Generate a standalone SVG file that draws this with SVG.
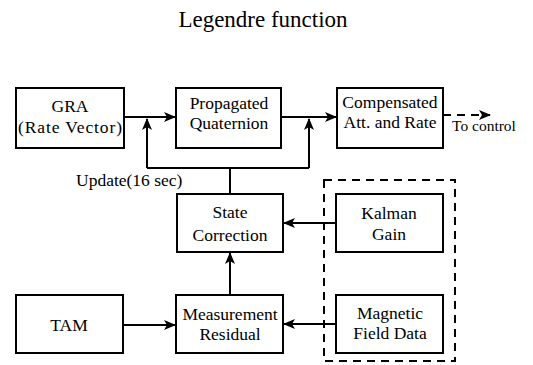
<svg xmlns="http://www.w3.org/2000/svg" width="533" height="365" viewBox="0 0 533 365">
  <style>
    .box { fill: #ffffff; stroke: #000000; stroke-width: 2; }
    text { font-family: 'Liberation Serif', 'Times New Roman', 'DejaVu Serif', serif; }
    .lbl { font-size: 17.5px; fill: #000000; text-anchor: middle; }
    .title { font-size: 23px; fill: #000000; text-anchor: middle; }
    .note { font-size: 17.5px; fill: #000000; text-anchor: start; }
    .wire { fill: none; stroke: #000000; stroke-width: 2; }
    .dash { fill: none; stroke: #000000; stroke-width: 2; stroke-dasharray: 8 6; }
  </style>
  <defs>
    <marker id="head" viewBox="0 0 12 10" refX="11" refY="5" markerWidth="12" markerHeight="10" markerUnits="userSpaceOnUse" orient="auto">
      <path d="M0,0 L12,5 L0,10 L3,5 Z" fill="#000000"/>
    </marker>
  </defs>

  <rect width="533" height="365" fill="#ffffff"/>

  <!-- title -->
  <text x="263" y="27" class="title">Legendre function</text>

  <!-- connectors -->
  <g id="connectors">
    <path class="wire" d="M124,117 H175" marker-end="url(#head)"/>
    <path class="wire" d="M281,117 H336" marker-end="url(#head)"/>
    <path class="wire" d="M230,194 V168"/>
    <path class="wire" d="M147,168 H309"/>
    <path class="wire" d="M147,168 V119" marker-end="url(#head)"/>
    <path class="wire" d="M309,168 V119" marker-end="url(#head)"/>
    <path class="wire" d="M230,295 V253" marker-end="url(#head)"/>
    <path class="wire" d="M336,223 H284" marker-end="url(#head)"/>
    <path class="wire" d="M336,324 H284" marker-end="url(#head)"/>
    <path class="wire" d="M123,325 H175" marker-end="url(#head)"/>
    <path class="dash" d="M443,115 H490" marker-end="url(#head)"/>
    <text x="76" y="186" class="note">Update(16 sec)</text>
    <text x="452" y="131" class="note" style="font-size:15.5px">To control</text>
  </g>

  <!-- dashed sensor group outline -->
  <rect id="sensor-group" x="324" y="180" width="131" height="181" class="dash"/>

  <g id="gra">
    <rect x="16" y="88" width="108" height="60" class="box"/>
    <text x="70" y="112" class="lbl">GRA</text>
    <text x="70" y="133" class="lbl" textLength="104" lengthAdjust="spacing">(Rate Vector)</text>
  </g>
  <g id="propagated">
    <rect x="176" y="88" width="105" height="60" class="box"/>
    <text x="229" y="109" class="lbl">Propagated</text>
    <text x="229" y="129" class="lbl">Quaternion</text>
  </g>
  <g id="compensated">
    <rect x="337" y="88" width="106" height="60" class="box"/>
    <text x="390" y="108" class="lbl">Compensated</text>
    <text x="390" y="128" class="lbl">Att. and Rate</text>
  </g>
  <g id="state-correction">
    <rect x="177" y="194" width="106" height="58" class="box"/>
    <text x="230" y="218" class="lbl">State</text>
    <text x="230" y="241" class="lbl">Correction</text>
  </g>
  <g id="kalman-gain">
    <rect x="336" y="194" width="107" height="58" class="box"/>
    <text x="389" y="219" class="lbl">Kalman</text>
    <text x="389" y="240" class="lbl">Gain</text>
  </g>
  <g id="tam">
    <rect x="16" y="295" width="107" height="58" class="box"/>
    <text x="69" y="331" class="lbl">TAM</text>
  </g>
  <g id="measurement-residual">
    <rect x="176" y="295" width="107" height="58" class="box"/>
    <text x="230" y="320" class="lbl">Measurement</text>
    <text x="230" y="340" class="lbl">Residual</text>
  </g>
  <g id="magnetic-field">
    <rect x="336" y="295" width="107" height="58" class="box"/>
    <text x="390" y="319" class="lbl">Magnetic</text>
    <text x="390" y="339" class="lbl">Field Data</text>
  </g>
</svg>
